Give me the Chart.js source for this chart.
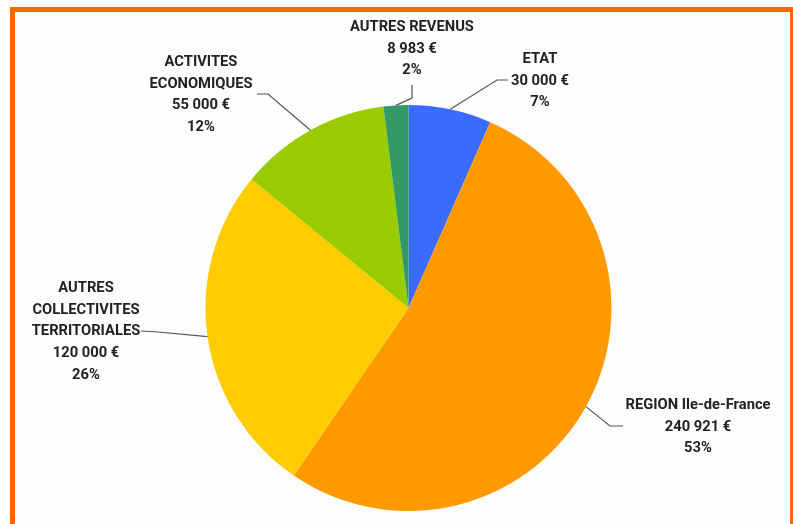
<!DOCTYPE html>
<html>
<head>
<meta charset="utf-8">
<script src="https://cdn.jsdelivr.net/npm/chart.js@4/dist/chart.umd.min.js"></script>
<style>
  html, body { margin: 0; padding: 0; background: #ffffff; }
  #wrap { position: relative; width: 793px; height: 524px; overflow: hidden; background: #ffffff; }
  #frame { position: absolute; left: 10px; top: 7px; height: 530px; width: 783px;
           border-left: 5px solid #ff6600; border-top: 5px solid #ff6600; border-right: 3px solid #ff6600;
           background: #fdfdfd; box-sizing: border-box; }
  #c { position: absolute; left: 0; top: 0; }
</style>
</head>
<body>
<div id="wrap">
  <div id="frame"></div>
  <canvas id="c" width="793" height="524"></canvas>
</div>
<script>
// ---- data ----
const categories = ["ETAT", "REGION Ile-de-France", "AUTRES COLLECTIVITES TERRITORIALES", "ACTIVITES ECONOMIQUES", "AUTRES REVENUS"];
const categoryLines = [["ETAT"], ["REGION Ile-de-France"], ["AUTRES", "COLLECTIVITES", "TERRITORIALES"], ["ACTIVITES", "ECONOMIQUES"], ["AUTRES REVENUS"]];
const amounts = [30000, 240921, 120000, 55000, 8983];
const colors = ["#3b6cff", "#ff9900", "#ffcc00", "#99cc00", "#339966"];

// ---- label layout (text center x, first line y, leader start, elbow) ----
const labelLayout = [
  { x: 540, y: 59,  start: [508, 80],  elbow: [497, 80] },
  { x: 698, y: 405, start: [623, 426], elbow: [610, 426] },
  { x: 86,  y: 288, start: [141, 331], elbow: [158, 332] },
  { x: 201, y: 62,  start: [257, 94],  elbow: [268, 94] },
  { x: 412, y: 27,  start: [412, 85],  elbow: [412, 98] }
];

const total = amounts.reduce((a, b) => a + b, 0);
function fmtEuro(v) {
  return String(v).replace(/\B(?=(\d{3})+(?!\d))/g, " ") + " €";
}
function fmtPct(v) { return Math.round(v / total * 100) + "%"; }

const labelPlugin = {
  id: "pieLabels",
  afterDraw(chart) {
    const ctx = chart.ctx;
    const meta = chart.getDatasetMeta(0);
    ctx.save();
    meta.data.forEach((arc, i) => {
      const p = arc.getProps(["x", "y", "startAngle", "endAngle", "outerRadius"], true);
      const mid = (p.startAngle + p.endAngle) / 2;
      const ax = p.x + Math.cos(mid) * p.outerRadius;
      const ay = p.y + Math.sin(mid) * p.outerRadius;
      const L = labelLayout[i];
      ctx.strokeStyle = "#555555";
      ctx.lineWidth = 1.2;
      ctx.beginPath();
      ctx.moveTo(L.start[0], L.start[1]);
      ctx.lineTo(L.elbow[0], L.elbow[1]);
      ctx.lineTo(ax, ay);
      ctx.stroke();
      const lines = categoryLines[i].concat([fmtEuro(amounts[i]), fmtPct(amounts[i])]);
      ctx.fillStyle = "#222222";
      ctx.font = "bold 15.5px Roboto, 'Liberation Sans', sans-serif";
      ctx.textAlign = "center";
      ctx.textBaseline = "middle";
      lines.forEach((t, k) => {
        ctx.save();
        ctx.translate(L.x, L.y + k * 21.8);
        ctx.scale(0.95, 1);
        ctx.fillText(t, 0, 0);
        ctx.restore();
      });
    });
    ctx.restore();
  }
};

new Chart(document.getElementById("c"), {
  type: "pie",
  data: {
    labels: categories,
    datasets: [{ data: amounts, backgroundColor: colors, borderWidth: 0 }]
  },
  options: {
    responsive: false,
    animation: false,
    layout: { padding: { left: 205, right: 181, top: 105, bottom: 13 } },
    plugins: { legend: { display: false }, tooltip: { enabled: false } }
  },
  plugins: [labelPlugin]
});
</script>
</body>
</html>
